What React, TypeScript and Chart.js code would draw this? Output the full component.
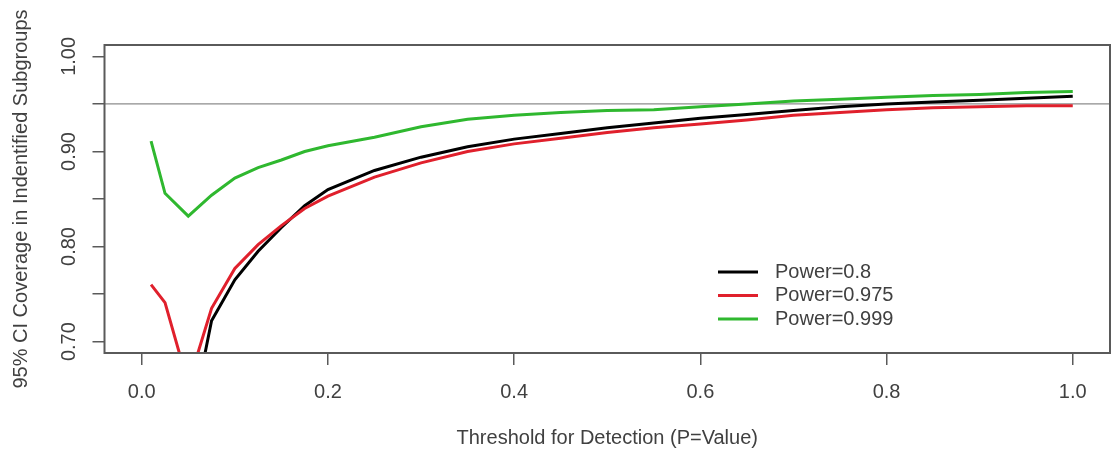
import { useEffect, useRef } from 'react';
import { Chart, registerables } from 'chart.js';

Chart.register(...registerables);

// ---- data ----
const thresholds = [0.01, 0.025, 0.05, 0.075, 0.1, 0.125, 0.15, 0.175, 0.2, 0.25, 0.3, 0.35, 0.4, 0.45, 0.5, 0.55, 0.6, 0.65, 0.7, 0.75, 0.8, 0.85, 0.9, 0.95, 1.0];
const power08 = [0.600, 0.580, 0.600, 0.722, 0.765, 0.795, 0.820, 0.843, 0.860, 0.880, 0.894, 0.905, 0.913, 0.919, 0.925, 0.930, 0.935, 0.939, 0.943, 0.947, 0.950, 0.952, 0.954, 0.956, 0.958];
const power0975 = [0.760, 0.741, 0.655, 0.735, 0.777, 0.802, 0.822, 0.840, 0.853, 0.873, 0.888, 0.900, 0.908, 0.914, 0.920, 0.925, 0.929, 0.933, 0.938, 0.941, 0.944, 0.946, 0.947, 0.948, 0.948];
const power0999 = [0.911, 0.856, 0.832, 0.854, 0.872, 0.883, 0.891, 0.900, 0.906, 0.915, 0.926, 0.934, 0.938, 0.941, 0.943, 0.944, 0.947, 0.950, 0.953, 0.955, 0.957, 0.959, 0.960, 0.962, 0.963];
const seriesLabels = ['Power=0.8', 'Power=0.975', 'Power=0.999'];
const seriesColors = ['#000000', '#e0202c', '#2fb82f'];

const xTickValues = [0, 0.2, 0.4, 0.6, 0.8, 1.0];
const xTickLabels = ['0.0', '0.2', '0.4', '0.6', '0.8', '1.0'];
const yTickValues = [0.70, 0.75, 0.80, 0.85, 0.90, 0.95, 1.00];
const yLabelValues = [0.70, 0.80, 0.90, 1.00];
const yLabelTexts = ['0.70', '0.80', '0.90', '1.00'];
const referenceLine = 0.95;

const xTitle = 'Threshold for Detection (P=Value)';
const yTitle = '95% CI Coverage in Indentified Subgroups';

const FONT = "'Liberation Sans', Arial, sans-serif";
const TEXT_COLOR = '#404040';
const AXIS_COLOR = '#5a5a5a';

const decorPlugin = {
  id: 'decor',
  beforeDatasetsDraw(chart: any) {
    const { ctx, chartArea, scales } = chart;
    const py = scales.y.getPixelForValue(referenceLine);
    ctx.save();
    ctx.strokeStyle = '#8c8c8c';
    ctx.lineWidth = 1.2;
    ctx.beginPath();
    ctx.moveTo(chartArea.left, py);
    ctx.lineTo(chartArea.right, py);
    ctx.stroke();
    ctx.restore();
  },
  afterDraw(chart: any) {
    const { ctx, chartArea, scales } = chart;
    ctx.save();
    // box
    ctx.strokeStyle = AXIS_COLOR;
    ctx.lineWidth = 2;
    ctx.strokeRect(chartArea.left, chartArea.top, chartArea.right - chartArea.left, chartArea.bottom - chartArea.top);

    ctx.fillStyle = TEXT_COLOR;
    ctx.font = `20px ${FONT}`;
    // y tick labels (rotated)
    yLabelValues.forEach((v, i) => {
      const py = scales.y.getPixelForValue(v);
      ctx.save();
      ctx.translate(69, py);
      ctx.rotate(-Math.PI / 2);
      ctx.textAlign = 'center';
      ctx.textBaseline = 'middle';
      ctx.fillText(yLabelTexts[i], 0, 0);
      ctx.restore();
    });
    // y title
    ctx.save();
    ctx.translate(21, (chartArea.top + chartArea.bottom) / 2);
    ctx.rotate(-Math.PI / 2);
    ctx.textAlign = 'center';
    ctx.textBaseline = 'middle';
    ctx.fillText(yTitle, 0, 0);
    ctx.restore();
    // x title
    ctx.textAlign = 'center';
    ctx.textBaseline = 'middle';
    ctx.fillText(xTitle, (chartArea.left + chartArea.right) / 2, 438);

    // legend
    const legendY = [272, 295.5, 319];
    chart.data.datasets.forEach((ds: any, i: number) => {
      ctx.strokeStyle = ds.borderColor;
      ctx.lineWidth = 3;
      ctx.beginPath();
      ctx.moveTo(718, legendY[i]);
      ctx.lineTo(758, legendY[i]);
      ctx.stroke();
      ctx.fillStyle = TEXT_COLOR;
      ctx.textAlign = 'left';
      ctx.textBaseline = 'middle';
      ctx.fillText(ds.label, 775, legendY[i]);
    });
    ctx.restore();
  },
};

export default function App() {
  const canvasRef = useRef<HTMLCanvasElement | null>(null);

  useEffect(() => {
    if (!canvasRef.current) return;
    const series = [power08, power0975, power0999];
    const chart = new Chart(canvasRef.current, {
      type: 'line',
      data: {
        datasets: series.map((vals, i) => ({
          label: seriesLabels[i],
          data: thresholds.map((x, j) => ({ x, y: vals[j] })),
          borderColor: seriesColors[i],
          backgroundColor: seriesColors[i],
          borderWidth: 3,
          pointRadius: 0,
          tension: 0,
          clip: 0,
          order: 3 - i,
        })),
      },
      options: {
        animation: false,
        responsive: false,
        maintainAspectRatio: false,
        layout: { padding: { top: 45, right: 1, left: 0, bottom: 0 } },
        plugins: {
          legend: { display: false },
          tooltip: { enabled: false },
        },
        scales: {
          x: {
            type: 'linear',
            min: -0.04,
            max: 1.04,
            afterBuildTicks: (scale: any) => {
              scale.ticks = xTickValues.map((v) => ({ value: v }));
            },
            afterFit: (scale: any) => {
              scale.height = 97;
            },
            ticks: {
              autoSkip: false,
              maxRotation: 0,
              padding: 15,
              color: TEXT_COLOR,
              font: { family: FONT, size: 20 },
              callback: (_v: any, i: number) => xTickLabels[i],
            },
            grid: {
              drawOnChartArea: false,
              drawTicks: true,
              tickLength: 12,
              color: AXIS_COLOR,
              lineWidth: 1.5,
            },
            border: { display: false },
          },
          y: {
            type: 'linear',
            min: 0.688,
            max: 1.012,
            afterBuildTicks: (scale: any) => {
              scale.ticks = yTickValues.map((v) => ({ value: v }));
            },
            afterFit: (scale: any) => {
              scale.width = 104.5;
            },
            ticks: { display: false },
            grid: {
              drawOnChartArea: false,
              drawTicks: true,
              tickLength: 12,
              color: AXIS_COLOR,
              lineWidth: 1.5,
            },
            border: { display: false },
          },
        },
      },
      plugins: [decorPlugin],
    } as any);
    return () => chart.destroy();
  }, []);

  return (
    <div style={{ position: 'fixed', left: 0, top: 0, width: 1111, height: 450, background: '#fff' }}>
      <canvas ref={canvasRef} width={1111} height={450} style={{ width: 1111, height: 450 }} />
    </div>
  );
}
